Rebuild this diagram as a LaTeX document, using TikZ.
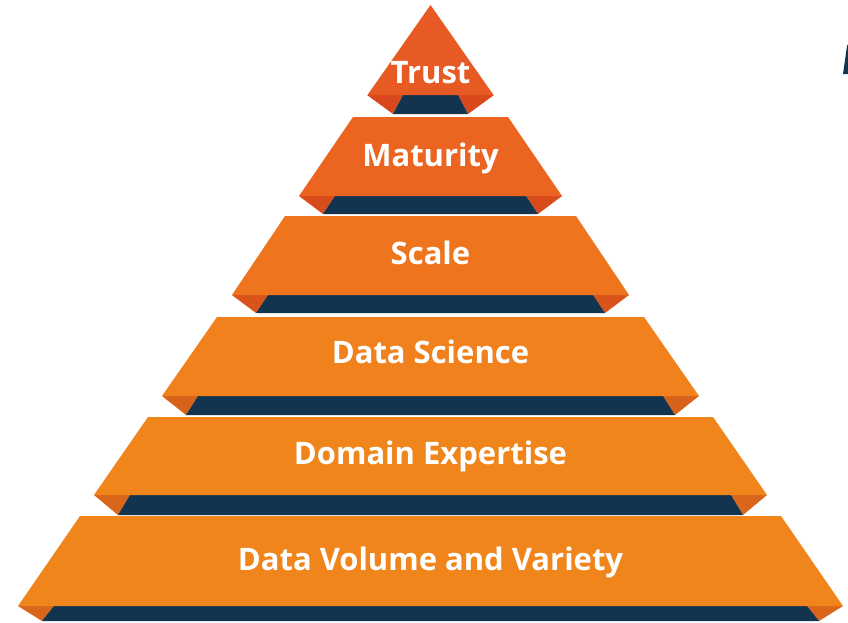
\documentclass[tikz,border=0pt]{standalone}
\usepackage{fontspec}
\setmainfont{Open Sans}
\definecolor{navy}{HTML}{12344F}
\definecolor{cA}{HTML}{E85A23}
\definecolor{cB}{HTML}{EB6521}
\definecolor{cC}{HTML}{EE741E}
\definecolor{cD}{HTML}{F0811C}
\definecolor{cE}{HTML}{F0851B}
\definecolor{cF}{HTML}{F0851B}
\definecolor{fA}{HTML}{D8481C}
\definecolor{fB}{HTML}{D84C1C}
\definecolor{fC}{HTML}{D9531B}
\definecolor{fD}{HTML}{D9621A}
\definecolor{fE}{HTML}{D9661A}
\definecolor{fF}{HTML}{D9661A}
% #1 ytop, #2 ybot, #3 half top, #4 half bottom, #5 colour, #6 fold colour, #7 band height
\newcommand\pyrlayer[7]{%
  \fill[#6] (430.5-#4,#2) -- (430.5-#4+36,#2) -- (430.5-#4+24,#2+#7) -- cycle;
  \fill[#6] (430.5+#4,#2) -- (430.5+#4-36,#2) -- (430.5+#4-24,#2+#7) -- cycle;
  \fill[navy] (430.5-#4+36,#2) -- (430.5+#4-36,#2) -- (430.5+#4-24,#2+#7) -- (430.5-#4+24,#2+#7) -- cycle;
  \fill[#5] (430.5-#3,#1) -- (430.5+#3,#1) -- (430.5+#4,#2) -- (430.5-#4,#2) -- cycle;
}
\tikzset{lbl/.style={text=white,font=\bfseries\fontsize{31}{36}\selectfont,inner sep=0pt,anchor=base}}
\begin{document}
\begin{tikzpicture}[x=1pt,y=-1pt]
\fill[white] (0,0) rectangle (848,622);
\useasboundingbox (0,0) rectangle (848,622);
% top-right navy sliver
\fill[navy] (843,74) -- (848,74) -- (848,44) -- (847,46) -- cycle;
% Trust
\fill[fA] (367,95) -- (403,95) -- (393,114) -- cycle;
\fill[fA] (494,95) -- (458,95) -- (468,114) -- cycle;
\fill[navy] (403,95) -- (458,95) -- (468,114) -- (393,114) -- cycle;
\fill[cA] (430.5,5) -- (493.5,95) -- (367.5,95) -- cycle;
\pyrlayer{117}{196}{77.5}{131.5}{cB}{fB}{18}
\pyrlayer{216}{295}{145.5}{198.5}{cC}{fC}{18}
\pyrlayer{317}{396}{213.5}{268.5}{cD}{fD}{19}
\pyrlayer{417}{495}{282.5}{336.5}{cE}{fE}{20}
\pyrlayer{516}{606}{350.5}{412.5}{cF}{fF}{15}
\node[lbl] (trust) at (430.5,83) {Trust};
\node[lbl] (maturity) at (430.5,166) {Maturity};
\node[lbl] (scale) at (430.5,264) {Scale};
\node[lbl] (science) at (430.5,363) {Data Science};
\node[lbl] (domain) at (430.5,464) {Domain Expertise};
\node[lbl] (volume) at (430.5,570) {Data Volume and Variety};
\end{tikzpicture}
\end{document}
